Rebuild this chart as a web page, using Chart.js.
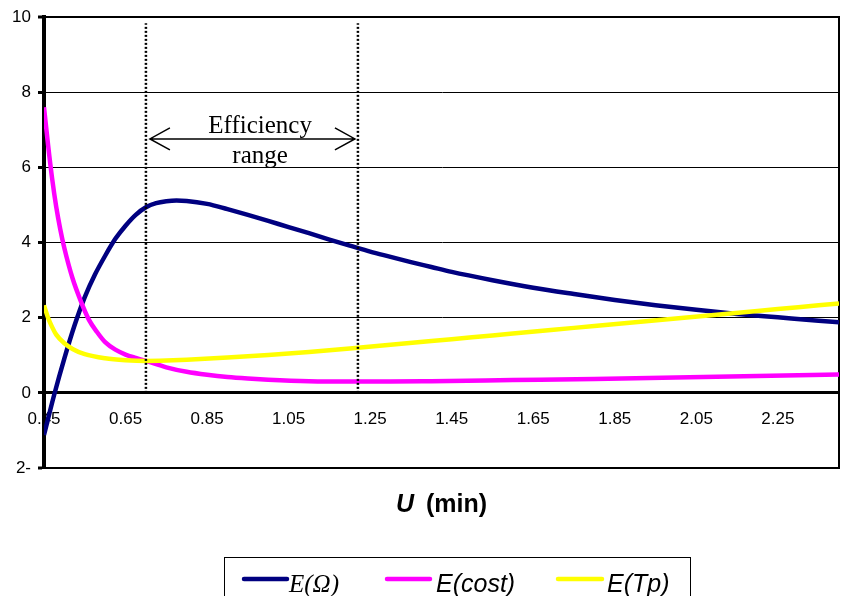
<!DOCTYPE html>
<html>
<head>
<meta charset="utf-8">
<script src="https://cdn.jsdelivr.net/npm/chart.js@4.4.1/dist/chart.umd.min.js"></script>
<style>
html,body{margin:0;padding:0;background:#ffffff;}
#wrap{width:843px;height:596px;position:relative;}
</style>
</head>
<body>
<div id="wrap"><canvas id="c" width="843" height="596"></canvas></div>
<script>
// ---- data ----
const seriesNames = ['E(Ω)', 'E(cost)', 'E(Tp)'];

const uOmega = [0.45,0.475,0.50,0.525,0.55,0.575,0.60,0.625,0.65,0.675,0.70,0.725,0.75,0.775,0.80,0.85,0.90,0.95,1.00,1.05,1.10,1.15,1.20,1.25,1.30,1.35,1.40,1.45,1.55,1.65,1.75,1.85,1.95,2.05,2.15,2.25,2.35,2.40];
const eOmega = [-1.12,-0.05,0.92,1.80,2.55,3.15,3.65,4.10,4.45,4.74,4.94,5.05,5.10,5.12,5.11,5.03,4.89,4.74,4.58,4.41,4.25,4.08,3.92,3.76,3.62,3.48,3.35,3.22,3.00,2.80,2.63,2.47,2.33,2.21,2.10,2.01,1.92,1.88];

const uCost = [0.45,0.46,0.47,0.48,0.49,0.50,0.52,0.54,0.56,0.58,0.60,0.625,0.65,0.675,0.70,0.75,0.80,0.85,0.90,0.95,1.00,1.10,1.20,1.30,1.40,1.60,1.80,2.00,2.20,2.40];
const eCost = [7.60,6.60,5.70,4.95,4.35,3.85,3.05,2.45,1.95,1.62,1.35,1.15,1.02,0.93,0.85,0.68,0.56,0.48,0.42,0.38,0.35,0.31,0.30,0.30,0.31,0.34,0.37,0.41,0.45,0.49];

const uTp = [0.45,0.46,0.47,0.48,0.50,0.52,0.55,0.60,0.65,0.70,0.75,0.80,0.90,1.00,1.10,1.20,1.30,1.40,1.50,1.60,1.70,1.80,1.90,2.00,2.10,2.20,2.30,2.40];
const eTp = [2.33,2.00,1.75,1.55,1.32,1.17,1.03,0.92,0.87,0.85,0.86,0.88,0.94,1.01,1.09,1.18,1.28,1.38,1.48,1.58,1.68,1.78,1.88,1.98,2.08,2.18,2.28,2.38];

const xTickLabels = ['0.45','0.65','0.85','1.05','1.25','1.45','1.65','1.85','2.05','2.25'];
const xRange = [0.45, 2.40];
const yTickValues = [-2, 0, 2, 4, 6, 8, 10];

const efficiencyRange = [0.70, 1.22];   // dotted limits (U)
const efficiencyTop = 9.84;             // top of dotted lines (E)
const efficiencyArrowY = 6.76;
const efficiencyTextX = 0.98;
const efficiencyTextLines = [['Efficiency', 6.92], ['range', 6.12]];

const xTitleBold = 'U';
const xTitleRest = '(min)';

// ---- chart ----
const colors = ['#000080', '#FF00FF', '#FFFF00'];
const toPts = (xs, ys) => xs.map((x, i) => ({x: x, y: ys[i]}));

const curve = (i, xs, ys, order) => ({
  label: seriesNames[i],
  data: toPts(xs, ys),
  borderColor: colors[i],
  backgroundColor: colors[i],
  borderWidth: 4.5,
  pointRadius: 0,
  cubicInterpolationMode: 'monotone',
  fill: false,
  order: order
});
const dotted = (u) => ({
  label: '',
  data: [{x: u, y: 0}, {x: u, y: efficiencyTop}],
  borderColor: '#000000',
  borderWidth: 2.5,
  borderDash: [2, 2],
  pointRadius: 0,
  fill: false,
  order: 0
});

const annotationPlugin = {
  id: 'annot',
  afterDatasetsDraw(chart) {
    const ctx = chart.ctx, xs = chart.scales.x, ys = chart.scales.y;
    const x1 = xs.getPixelForValue(efficiencyRange[0]) + 4;
    const x2 = xs.getPixelForValue(efficiencyRange[1]) - 3;
    const ay = ys.getPixelForValue(efficiencyArrowY);
    ctx.save();
    ctx.strokeStyle = '#000';
    ctx.lineWidth = 1.5;
    ctx.beginPath();
    ctx.moveTo(x1, ay); ctx.lineTo(x2, ay);
    ctx.moveTo(x1 + 20, ay - 11); ctx.lineTo(x1, ay); ctx.lineTo(x1 + 20, ay + 11);
    ctx.moveTo(x2 - 20, ay - 11); ctx.lineTo(x2, ay); ctx.lineTo(x2 - 20, ay + 11);
    ctx.stroke();
    ctx.fillStyle = '#000';
    ctx.font = '25px "Liberation Serif", "Times New Roman", serif';
    ctx.textAlign = 'center';
    ctx.textBaseline = 'alphabetic';
    const tx = xs.getPixelForValue(efficiencyTextX);
    efficiencyTextLines.forEach(([t, v]) => ctx.fillText(t, tx, ys.getPixelForValue(v)));
    ctx.restore();
  },
  afterDraw(chart) {
    const ctx = chart.ctx, ca = chart.chartArea;
    ctx.save();
    // x axis title
    ctx.fillStyle = '#000';
    ctx.textBaseline = 'alphabetic';
    const fb = 'bold italic 25px "Liberation Sans", Arial, sans-serif';
    const fr = 'bold 25px "Liberation Sans", Arial, sans-serif';
    ctx.font = fb; const w1 = ctx.measureText(xTitleBold).width;
    ctx.font = fr; const gap = 12; const w2 = ctx.measureText(xTitleRest).width;
    const cx = (ca.left + ca.right) / 2;
    let sx = cx - (w1 + gap + w2) / 2;
    const by = 512;
    ctx.textAlign = 'left';
    ctx.font = fb; ctx.fillText(xTitleBold, sx, by);
    ctx.font = fr; ctx.fillText(xTitleRest, sx + w1 + gap, by);

    // legend
    ctx.strokeStyle = '#000';
    ctx.lineWidth = 1;
    ctx.strokeRect(224.5, 557.5, 466, 60);
    const items = [
      {x0: 244, x1: 287, tx: 289, font: 'italic 25px "Liberation Serif", "Times New Roman", serif'},
      {x0: 387, x1: 430, tx: 436, font: 'italic 25px "Liberation Sans", Arial, sans-serif'},
      {x0: 558, x1: 602, tx: 607, font: 'italic 25px "Liberation Sans", Arial, sans-serif'}
    ];
    items.forEach((it, i) => {
      ctx.strokeStyle = colors[i];
      ctx.lineWidth = 4.5;
      ctx.lineCap = 'round';
      ctx.beginPath(); ctx.moveTo(it.x0, 579); ctx.lineTo(it.x1, 579); ctx.stroke();
      ctx.fillStyle = '#000';
      ctx.font = it.font;
      ctx.fillText(seriesNames[i], it.tx, 592);
    });
    ctx.restore();
  }
};

const lineW = (v) => (v === 0 ? 3 : (v === 10 || v === -2 ? 2 : 1));

new Chart(document.getElementById('c'), {
  type: 'line',
  data: {
    datasets: [
      curve(0, uOmega, eOmega, 3),
      curve(1, uCost, eCost, 2),
      curve(2, uTp, eTp, 1),
      dotted(efficiencyRange[0]),
      dotted(efficiencyRange[1])
    ]
  },
  options: {
    responsive: false,
    animation: false,
    events: [],
    layout: {padding: {top: 16, right: 0, bottom: 128, left: 0}},
    plugins: {legend: {display: false}, tooltip: {enabled: false}},
    scales: {
      x: {
        type: 'linear',
        position: {y: 0},
        min: xRange[0], max: xRange[1],
        grid: {display: false, drawTicks: false},
        border: {display: true, color: '#000', width: 3},
        ticks: {
          autoSkip: false, maxRotation: 0, padding: 16,
          color: '#000',
          font: {family: '"Liberation Sans", Arial, sans-serif', size: 17},
          callback: (v) => {
            const i = xTickLabels.findIndex(l => Math.abs(parseFloat(l) - v) < 1e-6);
            return i >= 0 ? xTickLabels[i] : '';
          }
        },
        afterBuildTicks: (s) => { s.ticks = xTickLabels.map(l => ({value: parseFloat(l)})); },
        afterFit: (s) => { s.height = 0; }
      },
      y: {
        type: 'linear',
        position: 'left',
        min: -2, max: 10,
        afterBuildTicks: (s) => { s.ticks = yTickValues.map(v => ({value: v})); },
        grid: {
          color: '#000',
          lineWidth: (c) => lineW(c.tick ? c.tick.value : 1),
          tickColor: '#000',
          tickWidth: 3,
          tickLength: 6
        },
        border: {display: true, color: '#000', width: 4},
        ticks: {
          padding: 7,
          color: '#000',
          font: {family: '"Liberation Sans", Arial, sans-serif', size: 17},
          callback: (v) => (v === -2 ? '2-' : String(v))
        },
        afterFit: (s) => { s.width = 44; }
      },
      y2: {
        type: 'linear',
        position: 'right',
        min: -2, max: 10,
        grid: {display: false, drawTicks: false},
        border: {display: true, color: '#000', width: 2},
        ticks: {display: false},
        afterFit: (s) => { s.width = 4; }
      }
    }
  },
  plugins: [annotationPlugin]
});
</script>
</body>
</html>
